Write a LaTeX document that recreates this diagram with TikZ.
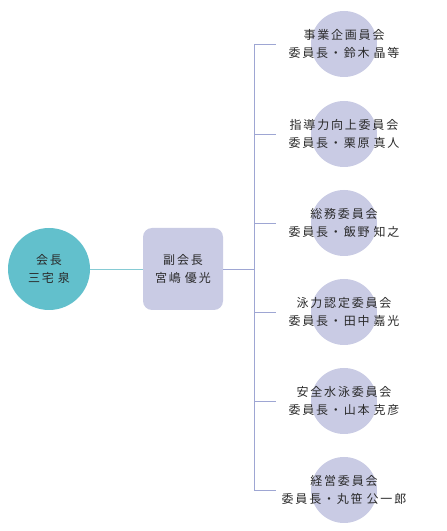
\documentclass[tikz,border=0pt]{standalone}
\usepackage{fontspec}
\newfontfamily\cjk[LetterSpace=15]{Noto Sans CJK JP}
\definecolor{teal1}{HTML}{62C0CC}
\definecolor{lav}{HTML}{C9CBE4}
\definecolor{tline}{HTML}{86CBD4}
\definecolor{lline}{HTML}{9EA6D3}
\definecolor{txt}{HTML}{2A2A2A}
\newcommand{\gp}{\hspace{4pt}}
\tikzset{
  chair/.style={circle,fill=teal1,minimum size=82pt,inner sep=0pt},
  vbox/.style={rounded corners=9pt,fill=lav,minimum width=80pt,minimum height=82pt,inner sep=0pt},
  cbox/.style={circle,fill=lav,minimum size=66pt,inner sep=0pt},
  lbl/.style={font=\cjk\fontsize{12pt}{18pt}\selectfont,text=txt,align=center,inner sep=0pt},
  tl/.style={draw=tline,line width=0.9pt},
  ll/.style={draw=lline,line width=0.9pt},
}
\begin{document}
\begin{tikzpicture}[x=1pt,y=1pt]
\useasboundingbox (0,0) rectangle (447,531);
% chair
\node[chair] (ch) at (49,262) {};
\node[lbl] (cht) at (ch) {会長\\三宅\gp 泉};
% vice
\node[vbox] (vp) at (183,262) {};
\node[lbl] (vpt) at (vp) {副会長\\宮嶋\gp 優光};
\draw[tl] (ch.east) -- (vp.west);
% bar
\coordinate (bj) at (254,262);
\coordinate (btop) at (254,487);
\coordinate (bbot) at (254,41);
\draw[ll] (vp.east) -- (bj);
\draw[ll] (btop) -- (bbot);
% committees
\foreach \i/\y/\a/\b/\c in {
  1/487/事業企画員会/委員長・鈴木/晶等,
  2/397/指導力向上委員会/委員長・栗原/真人,
  3/308/総務委員会/委員長・飯野/知之,
  4/219/泳力認定委員会/委員長・田中/嘉光,
  5/130/安全水泳委員会/委員長・山本/克彦,
  6/41/経営委員会/委員長・丸笹/公一郎}{
  \node[cbox] (c\i) at (344,\y) {};
  \node[lbl] (t\i) at (c\i) {\a\\\b\gp\c};
  \coordinate (e\i) at (276,\y);
  \draw[ll] (254,\y) -- (e\i);
}
\end{tikzpicture}
\end{document}
